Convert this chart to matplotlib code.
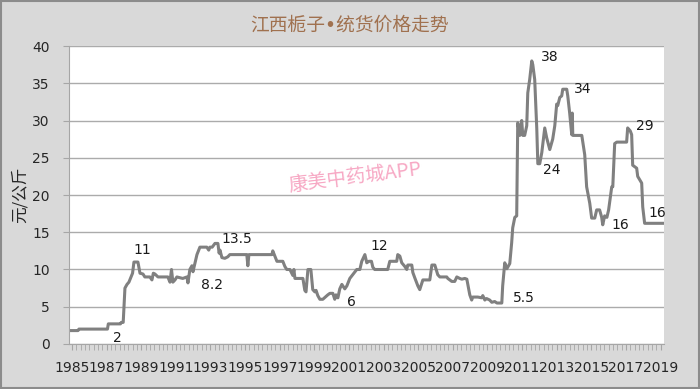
import matplotlib
matplotlib.use('Agg')
import matplotlib.pyplot as plt
from matplotlib.patches import Rectangle
import numpy as np

plt.rcParams['font.family'] = ['DejaVu Sans', 'Noto Sans CJK SC']

# price trace (decimal year, yuan/kg)
years = [1984.83, 1985.35, 1985.40, 1987.05, 1987.10, 1987.80, 1987.85, 1987.96, 1988.06, 1988.18,
         1988.29, 1988.41, 1988.50, 1988.58, 1988.81, 1988.93, 1989.10, 1989.21, 1989.50, 1989.62,
         1989.70, 1989.79, 1989.97, 1990.54, 1990.66, 1990.75, 1990.83, 1990.95, 1991.06, 1991.40,
         1991.64, 1991.70, 1991.81, 1991.93, 1991.99, 1992.22, 1992.39, 1992.79, 1992.90, 1992.97,
         1993.10, 1993.26, 1993.43, 1993.50, 1993.55, 1993.66, 1993.83, 1994.00, 1994.12, 1995.10,
         1995.16, 1995.22, 1996.55, 1996.60, 1996.72, 1996.84, 1997.18, 1997.30, 1997.41, 1997.59,
         1997.76, 1997.82, 1997.88, 1998.34, 1998.45, 1998.52, 1998.63, 1998.80, 1998.91, 1999.03,
         1999.10, 1999.20, 1999.32, 1999.49, 1999.78, 1999.90, 2000.07, 2000.18, 2000.25, 2000.36,
         2000.47, 2000.59, 2000.70, 2000.76, 2000.88, 2001.05, 2001.22, 2001.45, 2001.63, 2001.74,
         2001.92, 2002.03, 2002.15, 2002.30, 2002.38, 2002.49, 2003.24, 2003.36, 2003.76, 2003.82,
         2003.94, 2004.05, 2004.23, 2004.34, 2004.40, 2004.63, 2004.69, 2004.80, 2004.98, 2005.09,
         2005.27, 2005.67, 2005.79, 2005.96, 2006.13, 2006.25, 2006.65, 2006.71, 2006.94, 2007.11,
         2007.23, 2007.40, 2007.52, 2007.69, 2007.81, 2007.98, 2008.09, 2008.15, 2008.44, 2008.67,
         2008.73, 2008.85, 2008.95, 2009.13, 2009.25, 2009.42, 2009.55, 2009.83, 2009.88, 2010.00,
         2010.12, 2010.29, 2010.40, 2010.46, 2010.58, 2010.69, 2010.75, 2010.87, 2010.98, 2011.04,
         2011.15, 2011.27, 2011.33, 2011.44, 2011.56, 2011.62, 2011.73, 2011.85, 2011.91, 2012.02,
         2012.14, 2012.31, 2012.42, 2012.60, 2012.71, 2012.77, 2012.89, 2013.00, 2013.06, 2013.18,
         2013.29, 2013.35, 2013.58, 2013.64, 2013.75, 2013.87, 2013.90, 2013.93, 2014.45, 2014.62,
         2014.73, 2014.91, 2015.02, 2015.20, 2015.31, 2015.48, 2015.60, 2015.66, 2015.77, 2015.90,
         2016.00, 2016.18, 2016.24, 2016.35, 2016.47, 2017.04, 2017.10, 2017.25, 2017.33, 2017.39,
         2017.62, 2017.68, 2017.91, 2017.97, 2018.08, 2019.12]
prices = [1.8, 1.8, 2.0, 2.0, 2.7, 2.7, 2.9, 2.9, 7.5, 8.0,
          8.3, 9.0, 9.5, 11.0, 11.0, 9.5, 9.4, 9.0, 9.0, 8.6,
          9.5, 9.4, 9.0, 9.0, 8.3, 10.0, 8.3, 8.6, 9.0, 8.8,
          9.0, 8.2, 10.0, 10.5, 9.7, 12.0, 13.0, 13.0, 12.6, 13.0,
          13.0, 13.5, 13.5, 12.2, 12.6, 11.6, 11.5, 11.7, 12.0, 12.0,
          10.5, 12.0, 12.0, 12.5, 11.8, 11.1, 11.1, 10.4, 10.0, 10.0,
          9.2, 10.0, 8.8, 8.8, 7.2, 7.0, 10.0, 10.0, 7.3, 7.0,
          7.2, 6.5, 6.0, 6.0, 6.6, 6.8, 6.8, 6.0, 6.6, 6.2,
          7.4, 8.0, 7.6, 7.4, 7.8, 8.8, 9.3, 10.0, 10.0, 11.1,
          12.0, 10.9, 11.1, 11.1, 10.3, 10.0, 10.0, 11.1, 11.1, 12.0,
          11.8, 10.9, 10.4, 10.0, 10.6, 10.6, 9.6, 8.9, 7.8, 7.3,
          8.6, 8.6, 10.6, 10.6, 9.3, 9.0, 9.0, 8.8, 8.4, 8.4,
          9.0, 8.8, 8.7, 8.8, 8.7, 6.6, 5.9, 6.3, 6.3, 6.2,
          6.5, 5.9, 6.1, 5.9, 5.6, 5.7, 5.5, 5.5, 7.8, 10.9,
          10.1, 10.8, 13.6, 15.6, 17.0, 17.2, 29.7, 28.0, 30.0, 28.0,
          28.0, 29.3, 33.7, 35.5, 38.0, 37.5, 35.5, 28.9, 24.2, 24.2,
          25.7, 29.0, 27.7, 26.1, 27.0, 27.5, 29.3, 32.2, 32.0, 33.1,
          33.3, 34.2, 34.2, 33.3, 31.0, 28.1, 31.0, 28.0, 28.0, 25.4,
          21.1, 18.9, 16.9, 16.9, 18.0, 18.0, 17.0, 16.0, 17.2, 17.0,
          18.0, 21.1, 21.1, 26.9, 27.1, 27.1, 29.0, 28.6, 28.1, 24.0,
          23.6, 22.5, 21.6, 18.4, 16.2, 16.2]

# point labels: (year, value, text)
note_years = [1987.60, 1989.04, 1993.08, 1994.53, 2001.17, 2002.73, 2011.10,
              2012.60, 2012.71, 2014.50, 2016.70, 2018.08, 2018.83]
note_vals = [0.8, 12.6, 7.9, 14.1, 5.6, 13.2, 6.2, 38.5, 23.4, 34.2, 16.0, 29.3, 17.6]
note_text = ['2', '11', '8.2', '13.5', '6', '12', '5.5', '38', '24', '34', '16', '29', '16']

tick_years = list(range(1985, 2020, 2))
y_ticks = list(range(0, 41, 5))

fig = plt.figure(figsize=(7, 3.89), dpi=100)
fig.patch.set_facecolor('#d9d9d9')
fig.patches.append(Rectangle((0.001, 0.002), 0.997, 0.995, transform=fig.transFigure,
                             fill=False, edgecolor='#8c8c8c', linewidth=1.5))

ax = fig.add_axes([0.0986, 0.1157, 0.85, 0.766])
ax.set_facecolor('white')
ax.plot(years, prices, color='#808080', linewidth=2.2, solid_joinstyle='round')

ax.set_xlim(1984.83, 2019.2)
ax.set_ylim(0, 40)
ax.set_yticks(y_ticks)
ax.set_xticks(tick_years)
ax.set_xticks(np.arange(1985, 2019.2, 0.25), minor=True)
ax.set_xticklabels([str(y) for y in tick_years])
ax.grid(axis='y', color='#ababab', linewidth=1)
ax.set_axisbelow(True)

for s in ['top', 'right']:
    ax.spines[s].set_visible(False)
for s in ['left', 'bottom']:
    ax.spines[s].set_color('#a6a6a6')
ax.tick_params(axis='y', length=4, color='#a6a6a6', labelsize=10, labelcolor='#262626', pad=10)
ax.tick_params(axis='x', which='both', length=4, color='#a6a6a6', labelsize=10,
               labelcolor='#262626', pad=8)

ax.set_ylabel('元/公斤', family=['Noto Sans CJK SC', 'DejaVu Sans'], fontsize=12,
              color='#262626', labelpad=2)

for xv, yv, t in zip(note_years, note_vals, note_text):
    ax.text(xv, yv, t, ha='center', va='center', fontsize=10, color='#1a1a1a')

fig.text(0.5, 0.935, '江西栀子•统货价格走势', ha='center', va='center', fontsize=13.5,
         color='#a0714f', family=['DejaVu Sans', 'Noto Sans CJK SC'])
fig.text(0.507, 0.545, '康美中药城APP', ha='center', va='center', fontsize=14,
         color='#f7a8c4', rotation=7, family=['Noto Sans CJK SC', 'DejaVu Sans'])

fig.savefig('out.png', dpi=100, facecolor=fig.get_facecolor())
